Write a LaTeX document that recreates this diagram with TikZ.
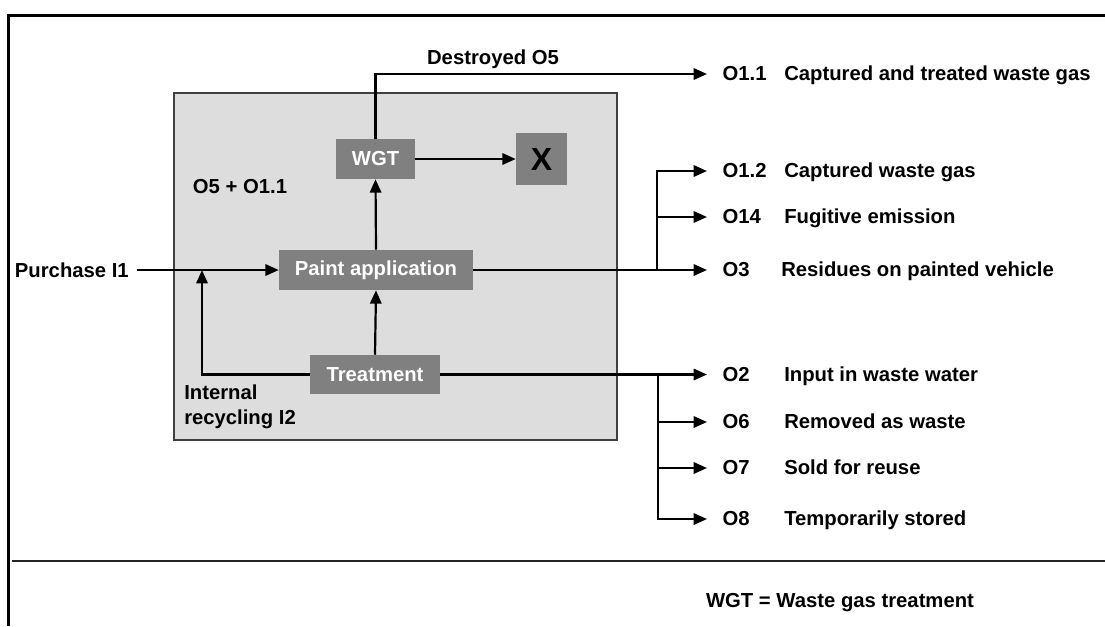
\documentclass[tikz,border=0pt]{standalone}
\usepackage{fontspec}
\setmainfont{Liberation Sans}
\usetikzlibrary{arrows.meta}

\definecolor{unitgray}{HTML}{808080}
\definecolor{areagray}{HTML}{DDDDDD}
\definecolor{edgegray}{HTML}{404040}

\begin{document}
\begin{tikzpicture}[x=0.75pt, y=-0.75pt,
    every node/.style={font=\fontsize{15.2}{18.75}\selectfont\bfseries},
    wire/.style={line width=1.65pt},
    flow/.style={wire, -{Triangle[length=10pt,width=8.5pt]}},
    unit/.style={fill=unitgray, text=white, inner sep=0pt},
    code/.style={anchor=west, inner xsep=11.5pt, inner ysep=0pt},
    desc/.style={anchor=base west, inner sep=0pt}]
    \useasboundingbox (0,0) rectangle (1105,626);

    % frame
    \draw[line width=1.8pt] (8.5,626) -- (8.5,15.5) -- (1105,15.5);
    \draw[line width=1.1pt, black!85] (12,561) -- (1105,561);

    % plant area
    \draw[fill=areagray, draw=edgegray, line width=1.2pt] (174,93) rectangle (617,440);

    % process units
    \node[unit, minimum width=59.25pt, minimum height=30pt] (wgt) at (375.5,159) {WGT};
    \node[unit, text=black, font=\fontsize{24}{28}\selectfont\bfseries,
          minimum width=38.25pt, minimum height=39pt] (destroy) at (541.5,159) {X};
    \node[unit, minimum width=145.5pt, minimum height=30pt] (paint) at (376,270) {Paint application};
    \node[unit, minimum width=97.5pt, minimum height=29.25pt] (treat) at (375,374.5) {Treatment};

    % inputs
    \node[anchor=east, inner xsep=6pt] (purchase) at (137,270) {Purchase I1};
    \coordinate (join) at (202,270);
    \node (mix) at (240,187) {O5 + O1.1};
    \node[anchor=west, align=left, inner sep=0pt] (recycle) at (184,407) {Internal\\recycling I2};

    \draw[flow] (purchase.east) -- (paint.west);
    \draw[flow] (treat.west) -| (join);
    \draw[flow] (treat.north) -- (paint.south);
    \draw[flow] (paint.north) -- (wgt.south);
    \draw[flow] (wgt.east) -- (destroy.west);

    % outputs
    \node (destroyed) at (493,59) {Destroyed O5};
    \foreach \name/\y/\code/\text in {o11/74/O1.1/Captured and treated waste gas,
        o12/171/O1.2/Captured waste gas, o14/217/O14/Fugitive emission,
        o2/374.5/O2/Input in waste water, o6/422/O6/Removed as waste,
        o7/468/O7/Sold for reuse, o8/519/O8/Temporarily stored} {
        \node[code] (\name) at (707,\y) {\code};
        \node[desc] (\name-d) at (\name.base -| 784,0) {\text};
    }
    \node[code] (o3) at (707,270) {O3};
    \node[desc] (o3-d) at (o3.base -| 781,0) {Residues on painted vehicle};

    \draw[flow] (wgt.north) |- (o11.west);

    \coordinate (pbranch) at (657,270);
    \draw[flow] (paint.east) -- (o3.west);
    \draw[flow] (pbranch) |- (o12.west);
    \draw[flow] (pbranch) |- (o14.west);

    \coordinate (tbranch) at (658,374.5);
    \draw[flow] (treat.east) -- (o2.west);
    \foreach \n in {o6,o7,o8}
        \draw[flow] (tbranch) |- (\n.west);

    % legend
    \node (legend) at (840,603) {WGT = Waste gas treatment};
\end{tikzpicture}
\end{document}
